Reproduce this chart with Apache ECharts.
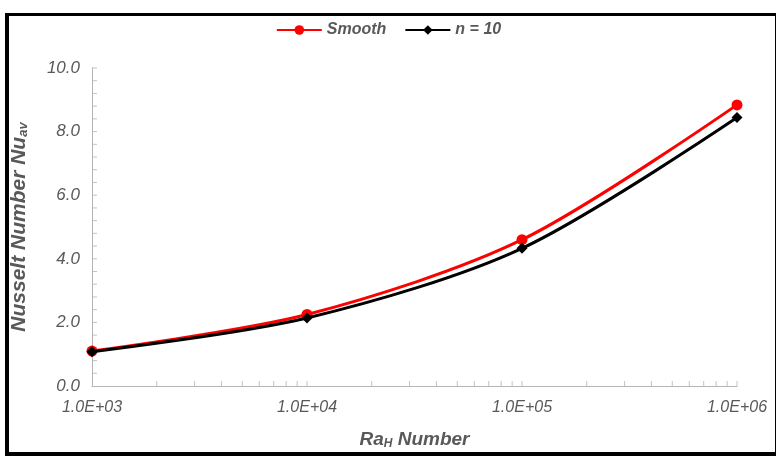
<!DOCTYPE html>
<html>
<head>
<meta charset="utf-8">
<script src="https://cdn.jsdelivr.net/npm/echarts@6/dist/echarts.min.js"></script>
<style>
  html, body { margin: 0; padding: 0; background: #fff; }
  #wrap { position: relative; width: 777px; height: 465px; }
  #myChart { position: absolute; left: 0; top: 0; width: 777px; height: 465px; }
  #frame {
    position: absolute; left: 5px; top: 13px; width: 766px; height: 436px;
    border-style: solid; border-color: #000;
    border-width: 3px 1px 4px 4px; pointer-events: none;
  }
</style>
</head>
<body>
<div id="wrap">
  <div id="myChart"></div>
  <div id="frame"></div>
</div>
<script>
// data
var raNumbers = [1e3, 1e4, 1e5, 1e6];
var smoothNu = [1.10, 2.25, 4.60, 8.84];
var n10Nu = [1.08, 2.14, 4.33, 8.44];
var xTickLabels = ["1.0E+03", "1.0E+04", "1.0E+05", "1.0E+06"];
var yTickLabels = ["0.0", "2.0", "4.0", "6.0", "8.0", "10.0"];
// tick marks of the axes (x: 1..9 in each decade, y: every 0.4)
var xTickValues = [
  2e3, 3e3, 4e3, 5e3, 6e3, 7e3, 8e3, 9e3, 1e4,
  2e4, 3e4, 4e4, 5e4, 6e4, 7e4, 8e4, 9e4, 1e5,
  2e5, 3e5, 4e5, 5e5, 6e5, 7e5, 8e5, 9e5, 1e6
];
var yTickValues = [0.4, 0.8, 1.2, 1.6, 2.0, 2.4, 2.8, 3.2, 3.6, 4.0, 4.4, 4.8, 5.2,
  5.6, 6.0, 6.4, 6.8, 7.2, 7.6, 8.0, 8.4, 8.8, 9.2, 9.6, 10.0];

var fontFam = "Liberation Sans, Arial, sans-serif";
var gray = "#595959";
var axisGray = "#b4b4b4";

var chartDom = echarts.init(document.getElementById("myChart"));
var option = {
  animation: false,
  textStyle: { fontFamily: fontFam },
  grid: { left: 92, right: 40, top: 68, bottom: 79 },
  legend: {
    top: 17,
    left: "center",
    itemWidth: 45,
    itemHeight: 12,
    itemGap: 18,
    data: ["Smooth", "n = 10"],
    textStyle: {
      color: gray, fontSize: 16, fontWeight: "bold", fontStyle: "italic", fontFamily: fontFam
    }
  },
  xAxis: {
    type: "log",
    logBase: 10,
    min: 1e3,
    max: 1e6,
    name: "{a|Ra}{s|H}{a| Number}",
    nameLocation: "middle",
    nameGap: 44,
    nameTextStyle: {
      rich: {
        a: { fontSize: 19, fontWeight: "bold", fontStyle: "italic", color: gray, fontFamily: fontFam },
        s: { fontSize: 12, fontWeight: "bold", fontStyle: "italic", color: gray, fontFamily: fontFam, verticalAlign: "bottom", padding: [8, 0, 0, 0] }
      }
    },
    axisLine: { lineStyle: { color: axisGray, width: 1 } },
    axisTick: { show: false },
    minorTick: { show: false },
    splitLine: { show: false },
    axisLabel: {
      margin: 14,
      color: gray, fontSize: 16, fontStyle: "italic", fontFamily: fontFam,
      formatter: function (v) {
        var i = Math.round(Math.log10(v)) - 3;
        return xTickLabels[i] || "";
      }
    }
  },
  yAxis: {
    type: "value",
    min: 0,
    max: 10,
    interval: 2,
    name: "{a|Nusselt Number Nu}{s|av}",
    nameLocation: "middle",
    nameRotate: 90,
    nameGap: 62,
    nameTextStyle: {
      rich: {
        a: { fontSize: 21, fontWeight: "bold", fontStyle: "italic", color: gray, fontFamily: fontFam },
        s: { fontSize: 13, fontWeight: "bold", fontStyle: "italic", color: gray, fontFamily: fontFam, verticalAlign: "bottom", padding: [9, 0, 0, 0] }
      }
    },
    axisLine: { show: true, lineStyle: { color: axisGray, width: 1 } },
    axisTick: { show: false },
    minorTick: { show: false },
    splitLine: { show: false },
    axisLabel: {
      margin: 12,
      color: gray, fontSize: 17, fontStyle: "italic", fontFamily: fontFam,
      formatter: function (v) {
        return yTickLabels[Math.round(v / 2)];
      }
    }
  },
  series: [
    {
      name: "xticks",
      type: "scatter",
      silent: true,
      clip: false,
      symbol: "rect",
      symbolSize: [1, 5],
      symbolOffset: [0, -2.5],
      itemStyle: { color: axisGray },
      data: xTickValues.map(function (x) { return [x, 0]; }),
      z: 1
    },
    {
      name: "yticks",
      type: "scatter",
      silent: true,
      clip: false,
      symbol: "rect",
      symbolSize: [5, 1],
      symbolOffset: [2.5, 0],
      itemStyle: { color: axisGray },
      data: yTickValues.map(function (y) { return [1e3, y]; }),
      z: 1
    },
    {
      name: "Smooth",
      type: "line",
      smooth: 0.3,
      color: "#ff0000",
      symbol: "circle",
      symbolSize: 11,
      lineStyle: { width: 3, color: "#ff0000" },
      itemStyle: { color: "#ff0000" },
      data: raNumbers.map(function (x, i) { return [x, smoothNu[i]]; }),
      z: 3
    },
    {
      name: "n = 10",
      type: "line",
      smooth: 0.3,
      color: "#000000",
      symbol: "diamond",
      symbolSize: 11,
      lineStyle: { width: 3, color: "#000000" },
      itemStyle: { color: "#000000" },
      data: raNumbers.map(function (x, i) { return [x, n10Nu[i]]; }),
      z: 4
    }
  ]
};
chartDom.setOption(option);
</script>
</body>
</html>
